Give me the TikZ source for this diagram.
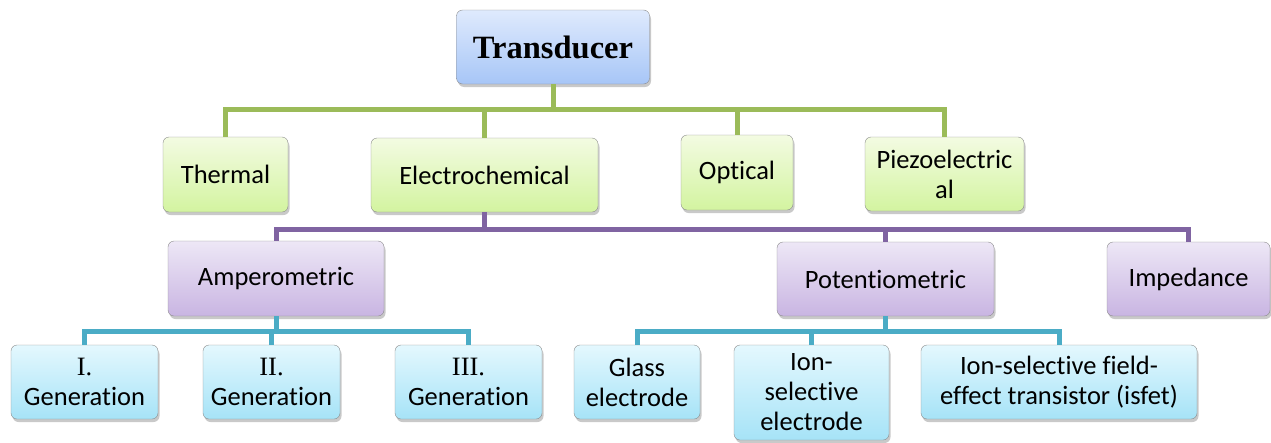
\documentclass[tikz,border=0pt]{standalone}
\usepackage{fontspec}
\usepackage{xcolor}
\setmainfont{Carlito}[Ligatures=NoCommon]
\newfontfamily\serifface{Liberation Serif}
\usetikzlibrary{shadows}
\definecolor{blueTop}{HTML}{DFEAFD}
\definecolor{blueBottom}{HTML}{A7C6F7}
\definecolor{greenTop}{HTML}{F3FBE2}
\definecolor{greenBottom}{HTML}{D3F4A0}
\definecolor{purpleTop}{HTML}{EDE7F6}
\definecolor{purpleBottom}{HTML}{C9B5E2}
\definecolor{cyanTop}{HTML}{E4F8FE}
\definecolor{cyanBottom}{HTML}{A6E3F7}
\definecolor{greenLine}{HTML}{9BBB59}
\definecolor{purpleLine}{HTML}{8064A2}
\definecolor{cyanLine}{HTML}{4BACC6}
\tikzset{
    rounded-box/.style = {draw=black!45, thin, rectangle, rounded corners=6pt, align=center, inner sep=2pt,
        font=\fontsize{26.5}{30}\selectfont,
        drop shadow={shadow xshift=1.5pt, shadow yshift=-3pt, opacity=0.3, fill=black!70}},
    top-box/.style = {rounded-box, top color=blueTop, bottom color=blueBottom,
        font=\serifface\bfseries\fontsize{32.5}{36}\selectfont},
    green-box/.style = {rounded-box, top color=greenTop, bottom color=greenBottom},
    purple-box/.style = {rounded-box, top color=purpleTop, bottom color=purpleBottom},
    cyan-box/.style = {rounded-box, top color=cyanTop, bottom color=cyanBottom},
    green-link/.style = {draw=greenLine, line width=5pt},
    purple-link/.style = {draw=purpleLine, line width=5pt},
    cyan-link/.style = {draw=cyanLine, line width=5pt},
}

\begin{document}
\begin{tikzpicture}[x=1pt, y=-1pt]
\useasboundingbox (0,0) rectangle (1271,442);

% root
\node[top-box, minimum width=193pt, minimum height=74pt] (transducer) at (553,47) {Transducer};

% first level
\node[green-box, minimum width=125pt, minimum height=75pt] (thermal) at (225.5,174.5) {Thermal};
\node[green-box, minimum width=227pt, minimum height=74pt] (electrochemical) at (484.5,175) {Electrochemical};
\node[green-box, minimum width=112pt, minimum height=75pt] (optical) at (737,172.5) {Optical};
\node[green-box, minimum width=159pt, minimum height=74pt] (piezo) at (944.5,174) {Piezoelectric\\al};

% second level
\node[purple-box, minimum width=216pt, minimum height=75pt] (amperometric) at (276,278.5) {Amperometric};
\node[purple-box, minimum width=217pt, minimum height=74pt] (potentiometric) at (885.5,279) {Potentiometric};
\node[purple-box, minimum width=163pt, minimum height=74pt] (impedance) at (1188.5,279) {Impedance};

% third level
\node[cyan-box, minimum width=147pt, minimum height=74pt] (gen-one) at (84.5,382) {{\serifface I.}\\Generation};
\node[cyan-box, minimum width=137pt, minimum height=74pt] (gen-two) at (271.5,382) {{\serifface II.}\\Generation};
\node[cyan-box, minimum width=147pt, minimum height=74pt] (gen-three) at (468.5,382) {{\serifface III.}\\Generation};
\node[cyan-box, minimum width=126pt, minimum height=74pt] (glass) at (637,382) {Glass\\electrode};
\node[cyan-box, minimum width=155pt, minimum height=95pt] (ise) at (811.5,392.5) {Ion-\\selective\\electrode};
\node[cyan-box, minimum width=276pt, minimum height=74pt] (isfet) at (1059,382) {Ion-selective field-\\effect transistor (isfet)};

% connectors
\coordinate (green-bus) at (553,109);
\draw[green-link] (transducer.south) -- (green-bus) -| (thermal.north);
\draw[green-link] (green-bus) -| (electrochemical.north);
\draw[green-link] (green-bus) -| (optical.north);
\draw[green-link] (green-bus) -| (piezo.north);

\coordinate (purple-bus) at (484.5,229);
\draw[purple-link] (electrochemical.south) -- (purple-bus) -| (amperometric.north);
\draw[purple-link] (purple-bus) -| (potentiometric.north);
\draw[purple-link] (purple-bus) -| (impedance.north);

\coordinate (amp-bus) at (276,331);
\draw[cyan-link] (amperometric.south) -- (amp-bus) -| (gen-one.north);
\draw[cyan-link] (amp-bus) -| (gen-two.north);
\draw[cyan-link] (amp-bus) -| (gen-three.north);

\coordinate (pot-bus) at (885.5,331);
\draw[cyan-link] (potentiometric.south) -- (pot-bus) -| (glass.north);
\draw[cyan-link] (pot-bus) -| (ise.north);
\draw[cyan-link] (pot-bus) -| (isfet.north);
\end{tikzpicture}
\end{document}
